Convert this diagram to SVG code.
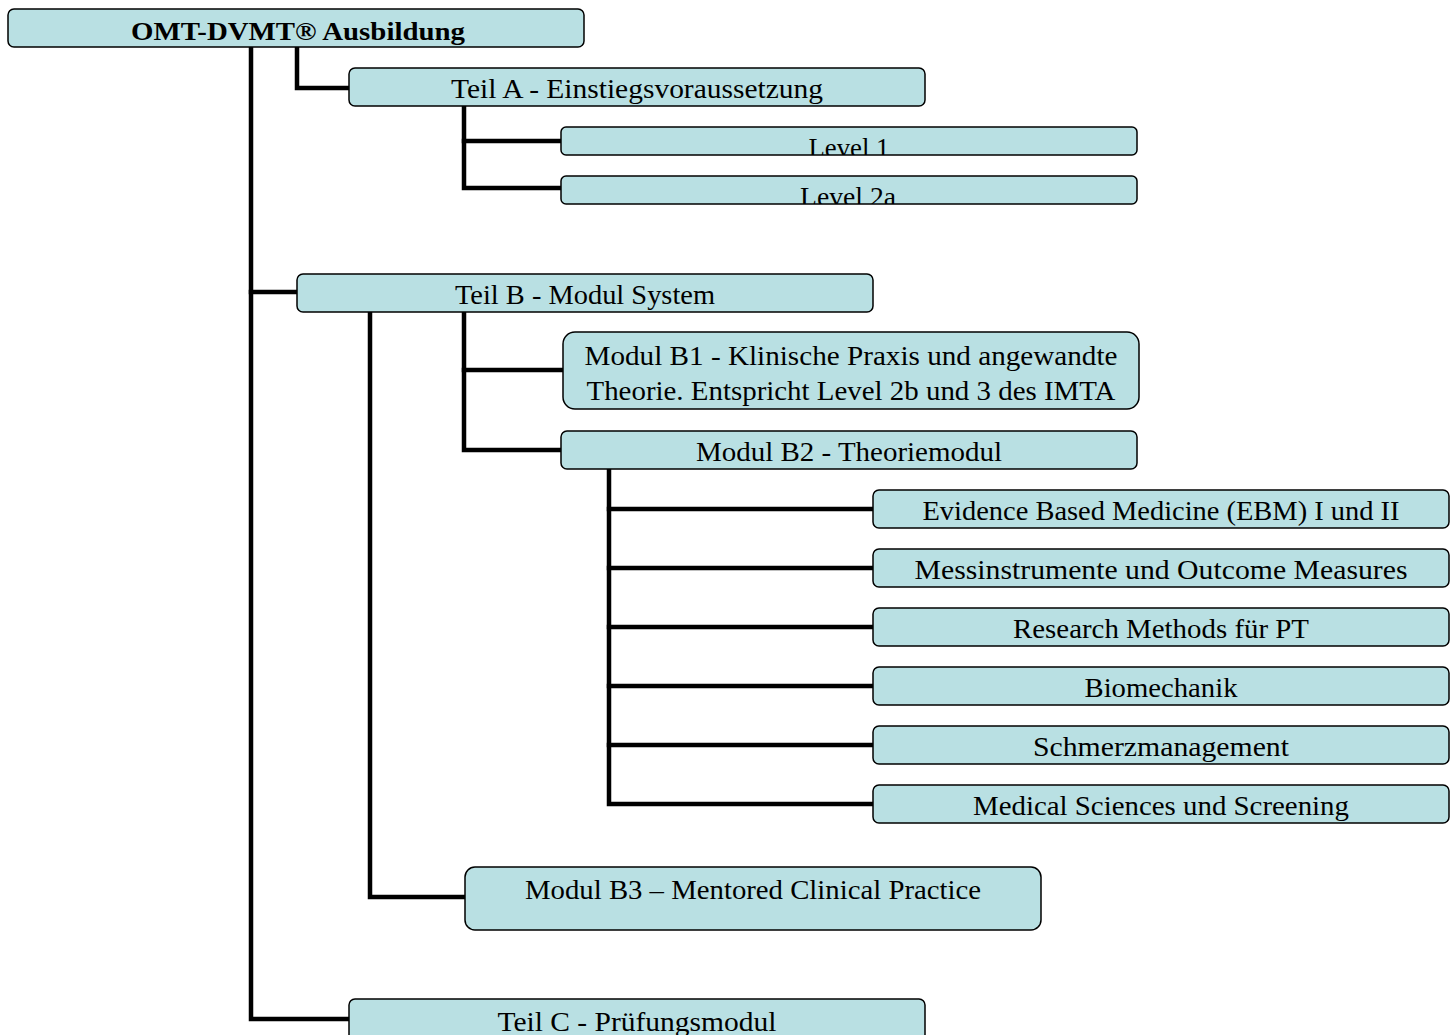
<svg xmlns="http://www.w3.org/2000/svg" width="1455" height="1035" viewBox="0 0 1455 1035">
<style>
.box{fill:#b9e0e3;stroke:#000;stroke-width:1.5}
.t{font-family:"Liberation Serif","Times New Roman",serif;font-size:27px;fill:#000;text-anchor:middle}
.b{font-weight:bold;font-size:26px}
.c{fill:none;stroke:#000;stroke-width:4.5;stroke-linejoin:miter;stroke-linecap:square}
</style>
<defs>
<clipPath id="clipL1"><rect x="561" y="127" width="576" height="28"/></clipPath>
<clipPath id="clipL2"><rect x="561" y="176" width="576" height="28"/></clipPath>
</defs>
<rect width="1455" height="1035" fill="#fff"/>
<g id="connectors">
<path class="c" d="M251,48 V1019 H349"/>
<path class="c" d="M251,292 H297"/>
<path class="c" d="M297,48 V88 H349"/>
<path class="c" d="M464,107 V188 H561"/>
<path class="c" d="M464,141 H561"/>
<path class="c" d="M370,313 V897 H465"/>
<path class="c" d="M464,313 V450 H561"/>
<path class="c" d="M464,370 H563"/>
<path class="c" d="M609,470 V804 H873"/>
<path class="c" d="M609,509 H873 M609,568 H873 M609,627 H873 M609,686 H873 M609,745 H873"/>
</g>
<g id="root"><rect class="box" x="8" y="9" width="576" height="38" rx="6"/><text class="t b" x="298" y="40" textLength="334" lengthAdjust="spacingAndGlyphs">OMT-DVMT® Ausbildung</text></g>
<g id="teilA"><rect class="box" x="349" y="68" width="576" height="38" rx="6"/><text class="t" x="637" y="98" textLength="372" lengthAdjust="spacingAndGlyphs">Teil A - Einstiegsvoraussetzung</text></g>
<g id="level1"><rect class="box" x="561" y="127" width="576" height="28" rx="5"/><text class="t" x="849" y="157" textLength="81" lengthAdjust="spacingAndGlyphs" clip-path="url(#clipL1)">Level 1</text></g>
<g id="level2a"><rect class="box" x="561" y="176" width="576" height="28" rx="5"/><text class="t" x="848" y="206" textLength="96" lengthAdjust="spacingAndGlyphs" clip-path="url(#clipL2)">Level 2a</text></g>
<g id="teilB"><rect class="box" x="297" y="274" width="576" height="38" rx="6"/><text class="t" x="585" y="304" textLength="260" lengthAdjust="spacingAndGlyphs">Teil B - Modul System</text></g>
<g id="b1"><rect class="box" x="563" y="332" width="576" height="77" rx="12"/><text class="t" x="851" y="365" textLength="533" lengthAdjust="spacingAndGlyphs">Modul B1 - Klinische Praxis und angewandte</text><text class="t" x="851" y="400" textLength="529" lengthAdjust="spacingAndGlyphs">Theorie. Entspricht Level 2b und 3 des IMTA</text></g>
<g id="b2"><rect class="box" x="561" y="431" width="576" height="38" rx="6"/><text class="t" x="849" y="461" textLength="306" lengthAdjust="spacingAndGlyphs">Modul B2 - Theoriemodul</text></g>
<g id="ebm"><rect class="box" x="873" y="490" width="576" height="38" rx="6"/><text class="t" x="1161" y="520" textLength="477" lengthAdjust="spacingAndGlyphs">Evidence Based Medicine (EBM) I und II</text></g>
<g id="mess"><rect class="box" x="873" y="549" width="576" height="38" rx="6"/><text class="t" x="1161" y="579" textLength="493" lengthAdjust="spacingAndGlyphs">Messinstrumente und Outcome Measures</text></g>
<g id="research"><rect class="box" x="873" y="608" width="576" height="38" rx="6"/><text class="t" x="1161" y="638" textLength="296" lengthAdjust="spacingAndGlyphs">Research Methods für PT</text></g>
<g id="bio"><rect class="box" x="873" y="667" width="576" height="38" rx="6"/><text class="t" x="1161" y="697" textLength="153" lengthAdjust="spacingAndGlyphs">Biomechanik</text></g>
<g id="schmerz"><rect class="box" x="873" y="726" width="576" height="38" rx="6"/><text class="t" x="1161" y="756" textLength="256" lengthAdjust="spacingAndGlyphs">Schmerzmanagement</text></g>
<g id="medical"><rect class="box" x="873" y="785" width="576" height="38" rx="6"/><text class="t" x="1161" y="815" textLength="376" lengthAdjust="spacingAndGlyphs">Medical Sciences und Screening</text></g>
<g id="b3"><rect class="box" x="465" y="867" width="576" height="63" rx="10"/><text class="t" x="753" y="899" textLength="456" lengthAdjust="spacingAndGlyphs">Modul B3 – Mentored Clinical Practice</text></g>
<g id="teilC"><rect class="box" x="349" y="999" width="576" height="50" rx="6"/><text class="t" x="637" y="1031" textLength="279" lengthAdjust="spacingAndGlyphs">Teil C - Prüfungsmodul</text></g>
</svg>
